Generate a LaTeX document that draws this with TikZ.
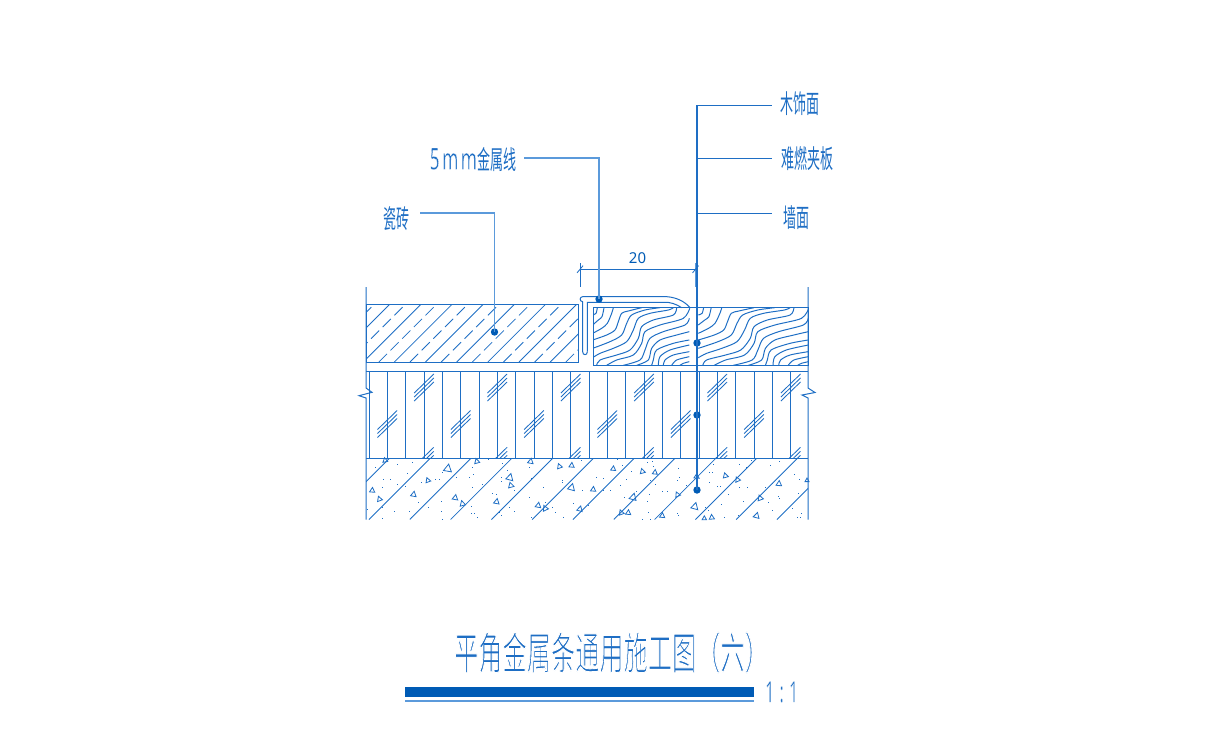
\documentclass[tikz,border=0pt]{standalone}
\usepackage{fontspec}
\newfontfamily\cjktitle[FakeStretch=0.55]{Noto Sans CJK SC}
\newfontfamily\cjklabel[FakeStretch=0.5]{Noto Sans CJK SC}
\newfontfamily\latfive[FakeStretch=0.58,LetterSpace=8]{Noto Sans}
\newfontfamily\latscale[FakeStretch=0.55,LetterSpace=18]{Noto Sans}
\setmainfont{Noto Sans}
\definecolor{cad}{HTML}{1E6EC4}
\definecolor{cadlight}{HTML}{5B9ADB}
\definecolor{cadbar}{HTML}{005BB5}
\newcommand{\thinstart}[1]{\special{pdf:code 2 Tr #1 w 1 1 1 RG}}
\newcommand{\thinend}{\special{pdf:code 0 Tr}}
\tikzset{
  base/.style={line width=1pt,draw=cad},
  fine/.style={line width=0.85pt,draw=cad},
  pale/.style={line width=1.3pt,draw=cadlight},
  leader/.style={line width=1pt,draw=cad},
  dotmark/.style={circle,fill=cadbar,inner sep=0pt,minimum size=7.4pt},
  labeltext/.style={text=cad,inner sep=0pt,font=\cjklabel\fontsize{26}{26}\selectfont},
  tri/.style={line width=0.8pt,draw=cad},
}
\newcommand{\grainline}[1]{\draw[base] plot[smooth] coordinates {#1};}
\newcommand{\woodgrain}{%
  \grainline{(82,68)(78,85)(68,90)}
  \grainline{(102,68)(96,95)(85,105)(68,120)}
  \grainline{(130,68)(125,85)(112,115)(95,130)(68,145)}
  \grainline{(215,68)(175,78)(155,85)(145,110)(135,135)(110,150)(68,165)}
  \grainline{(270,68)(225,75)(185,90)(170,115)(155,150)(120,170)(68,190)}
  \grainline{(310,68)(295,75)(240,85)(205,100)(190,135)(170,170)(130,190)(90,205)(68,218)}
  \grainline{(320,68)(310,90)(250,105)(215,125)(205,160)(180,195)(140,210)(90,225)(80,241)}
  \grainline{(360,68)(340,100)(270,120)(225,140)(215,175)(190,210)(140,225)(110,241)}
  \grainline{(358,100)(345,120)(280,140)(240,160)(225,195)(210,225)(160,241)}
  \grainline{(358,140)(320,150)(270,165)(245,190)(235,225)(200,241)}
  \grainline{(358,165)(310,175)(260,195)(250,225)(245,241)}
  \grainline{(358,180)(300,195)(270,215)(265,241)}
  \grainline{(358,200)(310,210)(285,225)(280,241)}
  \grainline{(358,215)(320,225)(305,241)}
  \grainline{(358,230)(340,235)(330,241)}
}
\begin{document}
\begin{tikzpicture}[x=1pt,y=-1pt]
\useasboundingbox (0,0) rectangle (1220,748);
% named points
\coordinate (tiledot) at (494.5,332);
\coordinate (stripdot) at (599,299);
\coordinate (rtop) at (697,105);
\coordinate (rmidA) at (697,158);
\coordinate (rmidB) at (697,213);
% tile
\begin{scope}
\clip (366,304) rectangle (578.5,362);
\foreach \k in {0,...,7}{
  \pgfmathsetmacro{\s}{694+31.17*\k}
  \draw[fine] (\s-362,362)--(\s-304,304);
}
\foreach \k in {0,...,8}{
  \pgfmathsetmacro{\s}{678.5+31.17*\k}
  \draw[fine,dash pattern=on 11.5pt off 5pt] (\s-362,362)--(\s-304,304);
}
\end{scope}
\draw[base] (366,304) rectangle (578.5,362);
% wood
\draw[base] (593,307.7) rectangle (808,365.3);
\begin{scope}
\clip (593,307.7) rectangle (690,365.3);
\begin{scope}[shift={(570,285)},x=0.3333pt,y=-0.3333pt]
\woodgrain
\end{scope}
\end{scope}
\begin{scope}
\clip (695,307.7) rectangle (808,365.3);
\begin{scope}[shift={(672.5,285)},x=0.3793pt,y=-0.3333pt]
\woodgrain
\end{scope}
\end{scope}
% metal strip
\begin{scope}[shift={(570,285)},x=0.3333pt,y=-0.3333pt]
\draw[base] (52,200)--(52,52)--(280,52) .. controls (300,50) and (320,58) .. (335,68);
\draw[base] (360,68) .. controls (345,50) and (320,37) .. (290,35)--(38,35)
  .. controls (28,35) and (28,50) .. (38,50)--(38,200)
  .. controls (38,212) and (52,212) .. (52,200);
\end{scope}
% middle layer
\draw[base] (366,371)--(808,371);
\draw[base] (366,458.3)--(808,458.3);
\foreach \k in {0,...,23}{
  \pgfmathsetmacro{\xx}{369+18.333*\k}
  \draw[base] (\xx,371)--(\xx,458.3);
}
\begin{scope}
\clip (366,371) rectangle (808,458.3);
\foreach \cx/\cy in {424/387.5,497.3/387.5,570.7/387.5,644/387.5,717.3/387.5,790.7/387.5,
  387.3/424,460.7/424,534/424,607.3/424,680.7/424,754/424,
  424/460.8,497.3/460.8,570.7/460.8,644/460.8,717.3/460.8,790.7/460.8}{
  \foreach \o in {-4,0,4}{
    \draw[fine] (\cx-9.8,\cy+\o+9.5)--(\cx+9.8,\cy+\o-9.5);
  }
}
\end{scope}
% outer edges with break marks
\draw[base] (366,287)--(366,388)--(372,392.3)--(359,395.7)--(366,398)--(366,519.5);
\draw[base] (808,287)--(808,388)--(815,392.5)--(802,395)--(808,398)--(808,519.5);
% concrete hatch
\begin{scope}
\clip (366,458.3) rectangle (808,519.5);
\foreach \k in {-1,0,...,10}{
  \pgfmathsetmacro{\xx}{369+40.8*\k}
  \draw[fine] (\xx,519.5)--(\xx+61,458.5);
}
\end{scope}
% triangles
\foreach \x/\y/\s/\r in {385/460/2.4/10,448/468/4/-10,476.7/461/2.6/15,530.7/461/2.8/-10,559.3/466/2.6/20,571.7/465/2.6/-5,
  510/477/3.6/-15,510.7/485/2.8/15,571.7/487/3.6/-15,427.7/480/2.5/20,372.3/490/2.6/-5,379.3/498.7/2.6/20,
  413.7/494/2.8/-10,455.3/497.3/2.8/-10,462.3/503.3/2.8/15,496.7/501.3/2.8/-10,538.3/505/2.8/-10,545/508/2.8/25,
  580/508.7/2.8/-15,593.3/489/2.6/-5,613.3/468.3/2.5/-5,642.3/471/2.6/15,655/472/2.5/-5,696.7/476/2.6/-5,
  725.3/475.3/2.6/15,737.3/479.3/2.6/25,779/483.3/2.8/-5,677.3/494.3/2.6/25,760/497.7/2.8/20,633.3/496.7/3.6/-15,
  695/506/3.6/-15,621/512.3/2.6/20,628.3/512.3/2.6/-5,662.3/515.3/2.6/-5,711.7/517/2.6/5,704.3/518/2.2/0,756.7/515.3/3/-15,807/480/2/0}{
  \draw[tri,shift={(\x,\y)},rotate=\r,x=\s pt,y=-\s pt] (-1,.8)--(1,.8)--(0,-1)--cycle;
}
% sand dots
\begin{scope}[shift={(355,380)},x=0.3333pt,y=-0.3333pt]
\foreach \x/\y in {127/253,172/247,61/262,157/280,85/298,105/298,197/305,240/298,252/298,262/275,127/313,150/318,82/322,37/388,80/380,118/393,163/393,190/367,220/380,258/362,258/392,262/417,80/415,167/410,303/292,352/262,343/290,355/283,352/320,382/313,348/378,347/400,358/400,367/410,412/340,422/342,463/382,478/330,437/303,442/250,457/270,400/238,523/262,570/255,522/350,565/320,570/365,590/380,622/300,622/305,678/240,680/330,655/370,700/375,433/395,438/405,478/393,527/410,600/395,625/410,528/295,438/292}{
  \fill[cad] (\x,\y) rectangle +(3.2,3.2);
}
\end{scope}
\begin{scope}[shift={(590,380)},x=0.3333pt,y=-0.3333pt]
\foreach \x/\y in {80/238,95/255,122/273,17/292,40/295,90/315,107/297,60/330,40/330,103/350,138/332,178/342,170/245,185/242,190/258,180/300,195/312,265/263,268/292,262/300,287/315,215/333,232/333,172/362,175/395,260/400,265/405,157/418,180/418,360/250,368/252,358/277,365/277,380/318,390/318,357/305,345/380,355/390,392/372,415/342,460/363,448/322,472/322,448/252,467/260,482/240,540/255,568/243,545/310,525/322,535/367,563/347,568/355,612/283,628/297,628/235,625/340,605/385,633/398,545/390,630/410,620/412,445/405,403/410}{
  \fill[cad] (\x,\y) rectangle +(3.2,3.2);
}
\end{scope}
% dimension
\coordinate (dimL) at (580,269.3);
\coordinate (dimR) at (695.5,269.3);
\draw[fine] (dimL)--(dimR);
\draw[fine] (580,263)--(580,287);
\draw[pale] (695.5,263)--(695.5,287);
\draw[fine] ([shift={(-3,3.6)}]dimL)--([shift={(3,-3.6)}]dimL);
\draw[fine] ([shift={(-3,3.6)}]dimR)--([shift={(3,-3.6)}]dimR);
\node[text=cadbar,inner sep=0pt,font=\fontsize{15}{15}\selectfont] (dimtext) at (637.5,258) {20};
% dots
\node[dotmark] (woodDot) at (697,343) {};
\node[dotmark] (wallDot) at (697,415) {};
\node[dotmark] (baseDot) at (697,490) {};
\node[dotmark] (tileDot) at (tiledot) {};
\node[dotmark] (stripDot) at (stripdot) {};
% labels
\node[labeltext,anchor=west] (lA) at (780,104) {木饰面};
\node[labeltext,anchor=west] (lB) at (781.5,158.5) {难燃夹板};
\node[labeltext,anchor=west] (lC) at (783,218) {墙面};
\node[labeltext,anchor=west] (lD) at (383,218.5) {瓷砖};
\node[labeltext,anchor=west] (lE) at (429.5,159.5) {{\latfive\fontsize{30}{30}\selectfont\thinstart{0.3}5mm\thinend}\hspace{0.5pt}金属线};
% leaders
\draw[pale] (524,158)--(599,158)--(stripDot.center);
\draw[pale] (420,213)--(494.5,213)--(tileDot.center);
\draw[leader,line width=1.2pt] (rtop)--(baseDot.center);
\draw[leader] (rtop)--(771.7,105);
\draw[leader] (rmidA)--(771.7,158);
\draw[leader] (rmidB)--(771.7,213);
% title
\node[text=cad,inner sep=0pt,anchor=west,font=\cjktitle\fontsize{44}{44}\selectfont] (title) at (454,652.5) {\thinstart{0.9}平角金属条通用施工图（六）\thinend};
\node[text=cad,inner sep=0pt,anchor=west,font=\latscale\fontsize{29}{29}\selectfont] (scale) at (765,692) {\thinstart{0.25}1:1\thinend};
\fill[cadbar] (405,687.3) rectangle (753.7,696.7);
\fill[cadlight] (405,700) rectangle (753.7,702);
\end{tikzpicture}
\end{document}
